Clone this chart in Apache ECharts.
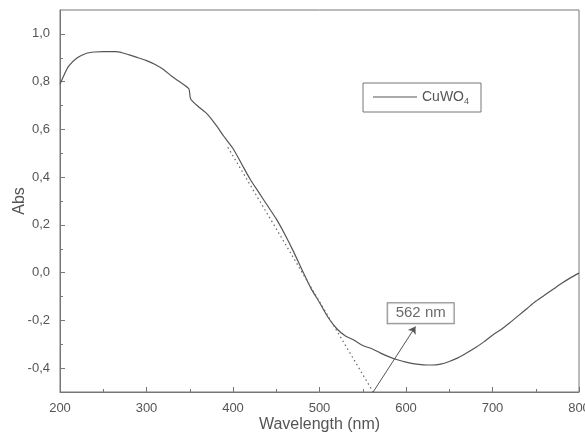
<!DOCTYPE html>
<html>
<head>
<meta charset="utf-8">
<script src="https://cdn.jsdelivr.net/npm/echarts@6/dist/echarts.min.js"></script>
<style>
  html, body { margin: 0; padding: 0; background: #fff; }
  #chart { width: 585px; height: 434px; }
</style>
</head>
<body>
<div id="chart"></div>
<script>
// absorbance spectrum
const wavelength = [200, 205, 210, 220, 230, 240, 250, 265, 280, 290, 300, 310, 320, 330, 340, 349, 351,
  360, 370, 380, 390, 400, 410, 420, 430, 440, 450, 460, 470, 480, 490, 500, 510, 520, 530, 540,
  550, 560, 570, 580, 590, 600, 610, 620, 630, 640, 650, 660, 670, 680, 690, 700, 710, 720, 730,
  740, 750, 760, 770, 780, 790, 800];
const absorbance = [0.79, 0.83, 0.865, 0.90, 0.918, 0.924, 0.926, 0.926, 0.912, 0.90, 0.888, 0.872, 0.85, 0.82, 0.795, 0.77, 0.727,
  0.695, 0.665, 0.62, 0.568, 0.52, 0.455, 0.39, 0.335, 0.28, 0.225, 0.16, 0.088, 0.01, -0.065, -0.125, -0.188, -0.235, -0.265, -0.283,
  -0.305, -0.318, -0.336, -0.352, -0.365, -0.375, -0.382, -0.386, -0.387, -0.383, -0.372, -0.357, -0.337, -0.315, -0.29, -0.262, -0.238, -0.21, -0.18,
  -0.15, -0.12, -0.095, -0.07, -0.045, -0.022, -0.002];

// tangent (band edge extrapolation)
const tangentX = [394, 562];
const tangentY = [0.525, -0.5];

// arrow pointing at the edge, and the label position
const arrowFrom = [562, -0.5];
const arrowTo = [611, -0.226];
const edgeLabelAt = [617, -0.17];
const edgeLabel = '562 nm';

const yMajor = [-0.4, -0.2, 0.0, 0.2, 0.4, 0.6, 0.8, 1.0];
const yMinor = [-0.3, -0.1, 0.1, 0.3, 0.5, 0.7, 0.9];

const axisColor = '#777';
const textColor = '#555';
const fmt = v => v.toFixed(1).replace('.', ',');

const chart = echarts.init(document.getElementById('chart'), null, { renderer: 'canvas' });

chart.setOption({
  backgroundColor: '#fff',
  animation: false,
  textStyle: { fontFamily: 'Liberation Sans, Arial, sans-serif' },
  grid: {
    left: 60, right: 6, top: 10, bottom: 42,
    outerBoundsMode: 'none',
    show: true, borderColor: axisColor, borderWidth: 1
  },
  legend: {
    data: ['CuWO4'],
    left: 363, top: 83,
    padding: [7, 12, 6, 10],
    borderColor: axisColor, borderWidth: 1,
    icon: 'rect', itemWidth: 44, itemHeight: 1.2, itemGap: 4,
    formatter: () => '{a|CuWO}{s|4}',
    textStyle: {
      rich: {
        a: { fontSize: 14, color: textColor, fontFamily: 'Liberation Sans' },
        s: { fontSize: 9, color: textColor, verticalAlign: 'bottom', padding: [9, 0, 0, 0], fontFamily: 'Liberation Sans' }
      }
    }
  },
  xAxis: {
    type: 'value',
    min: 200, max: 800, interval: 100,
    name: 'Wavelength (nm)',
    nameLocation: 'middle', nameGap: 25,
    nameMoveOverlap: false,
    nameTextStyle: { fontSize: 16, color: textColor },
    axisLine: { onZero: false, lineStyle: { color: axisColor } },
    axisTick: { inside: true, length: 5, lineStyle: { color: axisColor } },
    minorTick: { show: true, splitNumber: 2, length: 3, lineStyle: { color: axisColor } },
    axisLabel: { color: textColor, fontSize: 13, margin: 10 },
    splitLine: { show: false }
  },
  yAxis: [{
    type: 'value',
    min: -0.5, max: 1.1,
    name: 'Abs',
    nameLocation: 'middle', nameGap: 32,
    nameMoveOverlap: false,
    nameTextStyle: { fontSize: 16, color: textColor },
    axisLine: { onZero: false, lineStyle: { color: axisColor } },
    axisTick: { inside: true, length: 5, customValues: yMajor, lineStyle: { color: axisColor } },
    axisLabel: { color: textColor, fontSize: 13, margin: 10, customValues: yMajor, formatter: fmt },
    splitLine: { show: false }
  }, {
    type: 'value',
    position: 'left',
    min: -0.5, max: 1.1,
    axisLine: { show: false, onZero: false },
    axisTick: { show: true, inside: true, length: 3, customValues: yMinor, lineStyle: { color: axisColor } },
    axisLabel: { show: false },
    splitLine: { show: false }
  }],
  series: [{
    name: 'CuWO4',
    type: 'line',
    showSymbol: false,
    symbol: 'none',
    smooth: 0.25,
    data: wavelength.map((w, i) => [w, absorbance[i]]),
    lineStyle: { color: '#555', width: 1.2 },
    itemStyle: { color: '#555' }
  }, {
    name: 'tangent',
    type: 'line',
    symbol: 'none',
    data: tangentX.map((w, i) => [w, tangentY[i]]),
    lineStyle: { color: '#666', width: 1.2, type: [1.5, 3] },
    markLine: {
      silent: true,
      symbol: ['none', 'arrow'],
      symbolSize: 7,
      label: { show: false },
      lineStyle: { color: '#555', width: 1, type: 'solid' },
      data: [[{ coord: arrowFrom }, { coord: arrowTo }]]
    }
  }, {
    name: 'edge',
    type: 'scatter',
    symbolSize: 0,
    data: [edgeLabelAt],
    label: {
      show: true,
      position: 'inside',
      formatter: edgeLabel,
      fontSize: 15,
      color: '#444',
      borderColor: '#666',
      borderWidth: 1,
      padding: [3, 8, 2, 8],
      backgroundColor: '#fff'
    }
  }]
});
</script>
</body>
</html>
